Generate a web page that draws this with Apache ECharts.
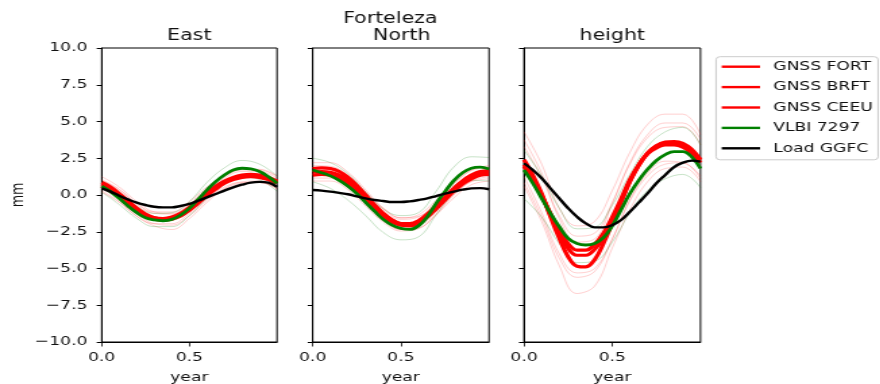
<!DOCTYPE html>
<html>
<head>
<meta charset="utf-8">
<script src="https://cdn.jsdelivr.net/npm/echarts@6/dist/echarts.min.js"></script>
<style>
html,body{margin:0;padding:0;background:#fff;overflow:hidden;}
#c{width:652px;height:384px;transform:scaleX(1.35);transform-origin:0 0;}
</style>
</head>
<body>
<div id="c"></div>
<script>
// ---- data ----
// main curves sampled every 0.05 yr, uncertainty envelopes every 0.1 yr
const xs = [0.0, 0.05, 0.1, 0.15, 0.2, 0.25, 0.3, 0.35, 0.4, 0.45, 0.5, 0.55, 0.6, 0.65, 0.7, 0.75, 0.8, 0.85, 0.9, 0.95, 1.0];
const xsB = [0.0, 0.1, 0.2, 0.3, 0.4, 0.5, 0.6, 0.7, 0.8, 0.9, 1.0];
const panelTitles = ['East', 'North', 'height'];
const suptitle = 'Forteleza';
const legendNames = ['GNSS FORT', 'GNSS BRFT', 'GNSS CEEU', 'VLBI 7297', 'Load GGFC'];
const xTicks = [0.0, 0.5];

// East
const eFORT = [0.85, 0.55, 0.1, -0.4, -0.9, -1.3, -1.55, -1.65, -1.6, -1.4, -1.0, -0.5, 0.05, 0.5, 0.85, 1.1, 1.25, 1.3, 1.25, 1.1, 0.85];
const eBRFT = [0.7, 0.4, -0.05, -0.55, -1.0, -1.4, -1.65, -1.72, -1.65, -1.42, -1.05, -0.55, -0.05, 0.4, 0.8, 1.05, 1.2, 1.25, 1.2, 1.05, 0.8];
const eCEEU = [0.6, 0.3, -0.1, -0.55, -1.0, -1.35, -1.55, -1.6, -1.5, -1.25, -0.85, -0.35, 0.15, 0.6, 0.95, 1.2, 1.35, 1.4, 1.35, 1.2, 0.95];
const eVLBI = [0.6, 0.23, -0.23, -0.75, -1.2, -1.55, -1.7, -1.75, -1.66, -1.36, -0.91, -0.3, 0.34, 0.91, 1.36, 1.7, 1.82, 1.77, 1.6, 1.25, 0.8];
const eLoad = [0.45, 0.23, -0.05, -0.3, -0.52, -0.68, -0.8, -0.84, -0.84, -0.75, -0.61, -0.39, -0.16, 0.07, 0.3, 0.52, 0.7, 0.84, 0.89, 0.84, 0.55];
const eFORThi = [1.25, 0.55, -0.45, -1.15, -1.25, -0.6, 0.45, 1.25, 1.7, 1.7, 1.25];
const eFORTlo = [0.45, -0.3, -1.3, -1.95, -2.05, -1.4, -0.35, 0.45, 0.85, 0.85, 0.45];
const eBRFThi = [1.05, 0.4, -0.6, -1.25, -1.3, -0.7, 0.3, 1.15, 1.6, 1.6, 1.15];
const eBRFTlo = [0.3, -0.45, -1.45, -2.1, -2.35, -1.6, -0.5, 0.4, 0.8, 0.85, 0.4];
const eCEEUhi = [1.0, 0.35, -0.6, -1.15, -1.15, -0.45, 0.55, 1.3, 1.75, 1.75, 1.3];
const eCEEUlo = [0.2, -0.5, -1.45, -1.95, -1.95, -1.25, -0.25, 0.55, 0.9, 0.95, 0.5];
const eVLBIhi = [0.95, 0.2, -0.75, -1.25, -1.2, -0.45, 0.85, 1.85, 2.35, 2.1, 1.3];
const eVLBIlo = [0.2, -0.65, -1.6, -2.15, -2.15, -1.4, -0.2, 0.85, 1.25, 1.05, 0.25];

// North
const nFORT = [1.8, 1.85, 1.8, 1.6, 1.2, 0.65, 0.0, -0.65, -1.25, -1.7, -1.95, -2.0, -1.85, -1.45, -0.9, -0.25, 0.4, 0.95, 1.35, 1.6, 1.65];
const nBRFT = [1.35, 1.4, 1.35, 1.15, 0.8, 0.3, -0.3, -0.9, -1.45, -1.85, -2.05, -2.1, -1.9, -1.5, -0.95, -0.35, 0.25, 0.75, 1.1, 1.35, 1.4];
const nCEEU = [1.55, 1.6, 1.55, 1.35, 1.0, 0.45, -0.15, -0.75, -1.3, -1.7, -1.95, -1.95, -1.75, -1.3, -0.75, -0.15, 0.45, 0.95, 1.3, 1.5, 1.55];
const nVLBI = [1.7, 1.52, 1.3, 1.0, 0.6, 0.1, -0.5, -1.1, -1.66, -2.05, -2.27, -2.34, -2.1, -1.48, -0.57, 0.23, 0.98, 1.52, 1.82, 1.89, 1.77];
const nLoad = [0.34, 0.3, 0.23, 0.14, 0.05, -0.09, -0.23, -0.34, -0.41, -0.48, -0.48, -0.43, -0.34, -0.23, -0.07, 0.09, 0.23, 0.36, 0.45, 0.47, 0.39];
const nFORThi = [2.2, 2.2, 1.55, 0.35, -0.9, -1.55, -1.45, -0.5, 0.75, 1.7, 2.0];
const nFORTlo = [1.4, 1.4, 0.8, -0.4, -1.65, -2.35, -2.25, -1.3, 0.0, 0.95, 1.25];
const nBRFThi = [1.75, 1.75, 1.15, 0.05, -1.05, -1.65, -1.5, -0.55, 0.6, 1.45, 1.75];
const nBRFTlo = [0.95, 0.95, 0.35, -0.75, -1.85, -2.45, -2.3, -1.35, -0.2, 0.7, 0.95];
const nCEEUhi = [2.0, 1.95, 1.35, 0.2, -0.9, -1.55, -1.35, -0.35, 0.8, 1.65, 1.9];
const nCEEUlo = [1.15, 1.15, 0.55, -0.55, -1.7, -2.35, -2.15, -1.15, 0.05, 0.9, 1.1];
const nVLBIhi = [2.5, 2.2, 1.45, 0.2, -0.95, -1.4, -1.2, 0.25, 1.9, 2.6, 2.55];
const nVLBIlo = [0.9, 0.45, -0.35, -1.4, -2.55, -3.05, -2.85, -1.35, 0.15, 1.0, 0.95];

// height
const hFORT = [2.4, 1.36, 0.1, -1.48, -2.95, -4.2, -4.84, -4.89, -4.4, -3.3, -1.9, -0.45, 0.95, 2.05, 2.84, 3.34, 3.6, 3.64, 3.52, 3.11, 2.4];
const hBRFT = [2.05, 1.14, 0.0, -1.36, -2.6, -3.64, -4.1, -4.1, -3.7, -2.9, -1.8, -0.45, 0.9, 2.0, 2.85, 3.35, 3.55, 3.52, 3.34, 2.95, 2.4];
const hCEEU = [1.93, 1.02, -0.07, -1.25, -2.39, -3.3, -3.75, -3.75, -3.35, -2.6, -1.5, -0.25, 1.05, 2.05, 2.8, 3.2, 3.4, 3.4, 3.25, 2.84, 2.2];
const hVLBI = [1.7, 0.8, -0.23, -1.25, -2.16, -2.95, -3.3, -3.4, -3.3, -2.9, -2.1, -1.0, 0.1, 1.0, 1.75, 2.35, 2.75, 2.95, 2.95, 2.6, 1.8];
const hLoad = [2.16, 1.7, 1.14, 0.45, -0.23, -0.9, -1.48, -1.93, -2.2, -2.2, -2.05, -1.7, -1.14, -0.52, 0.11, 0.8, 1.36, 1.9, 2.2, 2.34, 2.27];
const hFORThi = [4.3, 2.1, -0.9, -2.1, -1.8, 0.3, 2.9, 4.8, 5.5, 5.5, 4.1];
const hFORTlo = [0.6, -1.8, -4.8, -6.7, -6.2, -3.6, -1.0, 0.9, 1.8, 1.9, 0.9];
const hBRFThi = [3.75, 1.5, -1.6, -3.2, -3.0, -0.6, 2.2, 4.1, 4.9, 4.9, 3.8];
const hBRFTlo = [0.85, -1.5, -4.3, -5.6, -5.2, -3.0, -0.3, 1.5, 2.3, 2.2, 1.3];
const hCEEUhi = [3.3, 1.2, -1.4, -2.8, -2.6, -0.5, 2.1, 3.9, 4.6, 4.65, 3.4];
const hCEEUlo = [1.25, -1.2, -4.0, -5.3, -5.0, -3.0, -0.4, 1.3, 2.1, 2.2, 1.1];
const hVLBIhi = [3.05, 1.3, -0.9, -2.3, -2.2, -0.7, 1.4, 3.3, 4.3, 4.6, 3.4];
const hVLBIlo = [-0.25, -1.5, -3.3, -4.6, -4.5, -3.2, -1.2, 0.3, 1.1, 1.4, 0.5];

// ---- chart ----
const S = 1.35; // horizontal stretch of the reference
const FONT = 'DejaVu Sans';
const TXT = '#111';
const RED = '#ff0000', GREEN = '#008000', BLACK = '#000000';
const PALE_RED = 'rgba(255,40,40,0.28)', PALE_GREEN = 'rgba(0,128,0,0.28)';

const panels = [
  {main:[eFORT,eBRFT,eCEEU,eVLBI,eLoad], bounds:[[eFORThi,eFORTlo],[eBRFThi,eBRFTlo],[eCEEUhi,eCEEUlo],[eVLBIhi,eVLBIlo]]},
  {main:[nFORT,nBRFT,nCEEU,nVLBI,nLoad], bounds:[[nFORThi,nFORTlo],[nBRFThi,nBRFTlo],[nCEEUhi,nCEEUlo],[nVLBIhi,nVLBIlo]]},
  {main:[hFORT,hBRFT,hCEEU,hVLBI,hLoad], bounds:[[hFORThi,hFORTlo],[hBRFThi,hBRFTlo],[hCEEUhi,hCEEUlo],[hVLBIhi,hVLBIlo]]}
];
const gridLeftReal = [101.7, 312.7, 524];
const gridRightReal = [277, 489, 700.5];

function line(gi, name, xv, arr, color, width, z) {
  return {
    type:'line', name:name, xAxisIndex:gi, yAxisIndex:gi,
    data: xv.map((x,i)=>[x, arr[i]]),
    smooth:0.4, showSymbol:false, symbol:'none', silent:true,
    lineStyle:{color:color, width:width}, itemStyle:{color:color}, z:z,
    animation:false
  };
}

const grids = [], xAxes = [], yAxes = [], series = [];
panels.forEach((p, gi) => {
  const l = gridLeftReal[gi] / S, r = gridRightReal[gi] / S;
  grids.push({left:l, width:r-l, top:48, height:294, containLabel:false, outerBoundsMode:'none',
    show:true, borderColor:'#000', borderWidth:1, backgroundColor:'transparent'});
  xAxes.push({
    type:'value', gridIndex:gi, min:0, max:1, interval:0.5,
    name:'year', nameLocation:'middle', nameGap:29,
    nameTextStyle:{fontFamily:FONT, fontSize:12.7, color:TXT},
    axisLine:{show:true, onZero:false, lineStyle:{color:'#000', width:1}},
    axisTick:{show:true, inside:false, length:4.5, lineStyle:{color:'#000', width:0.8}, customValues:xTicks},
    axisLabel:{show:true, fontFamily:FONT, fontSize:12.7, color:TXT, margin:9, customValues:xTicks, formatter:v=>v.toFixed(1)},
    splitLine:{show:false}
  });
  yAxes.push({
    type:'value', gridIndex:gi, min:-10, max:10, interval:2.5,
    axisLine:{show:true, onZero:false, lineStyle:{color:'#000', width:1}},
    axisTick:{show:true, inside:false, length:3.7, lineStyle:{color:'#000', width:1}},
    axisLabel:{show:gi===0, fontFamily:FONT, fontSize:12.7, color:TXT, margin:10.6, padding:[3,0,0,0],
      formatter:v=>v.toFixed(1).replace('-', '\u2212')},
    splitLine:{show:false}
  });
  p.bounds.forEach((b, bi) => {
    const c = bi === 3 ? PALE_GREEN : PALE_RED;
    series.push(line(gi, 'bound', xsB, b[0], c, 0.8, 1));
    series.push(line(gi, 'bound', xsB, b[1], c, 0.8, 1));
  });
  series.push(line(gi, legendNames[0], xs, p.main[0], RED, 3.2, 2));
  series.push(line(gi, legendNames[1], xs, p.main[1], RED, 3.2, 2));
  series.push(line(gi, legendNames[2], xs, p.main[2], RED, 3.2, 2));
  series.push(line(gi, legendNames[3], xs, p.main[3], GREEN, 2.8, 3));
  series.push(line(gi, legendNames[4], xs, p.main[4], BLACK, 2.4, 4));
});

const centers = [0,1,2].map(i => (gridLeftReal[i] + gridRightReal[i]) / 2 / S);
const graphics = [
  {type:'text', x:390.3/S, y:19, style:{text:suptitle, font:'15.2px "DejaVu Sans"', fill:TXT, textAlign:'center', textVerticalAlign:'middle'}},
  {type:'text', x:13.6, y:195, rotation:Math.PI/2, style:{text:'mm', font:'12.7px "DejaVu Sans"', fill:TXT, textAlign:'center', textVerticalAlign:'middle'}}
];
panelTitles.forEach((t, i) => {
  graphics.push({type:'text', x:centers[i] + (i===1 ? 0.6 : 0), y:36, style:{text:t, font:'15.2px "DejaVu Sans"', fill:TXT, textAlign:'center', textVerticalAlign:'middle'}});
});

const chart = echarts.init(document.getElementById('c'), null, {renderer:'canvas', width:652, height:384});
chart.setOption({
  animation:false,
  backgroundColor:'#ffffff',
  grid:grids, xAxis:xAxes, yAxis:yAxes, series:series,
  graphic:graphics,
  legend:{
    data:legendNames, orient:'vertical', left:530.4, top:56.7,
    icon:'rect', itemWidth:28.4, itemHeight:2.4, itemGap:6.4,
    padding:[3, 4, 4.5, 4.2], selectedMode:false,
    borderColor:'#cccccc', borderWidth:1, borderRadius:3, backgroundColor:'rgba(255,255,255,0.8)',
    textStyle:{fontFamily:FONT, fontSize:12.7, color:TXT, lineHeight:14, padding:[0,0,0,4.8]}
  }
});
</script>
</body>
</html>
